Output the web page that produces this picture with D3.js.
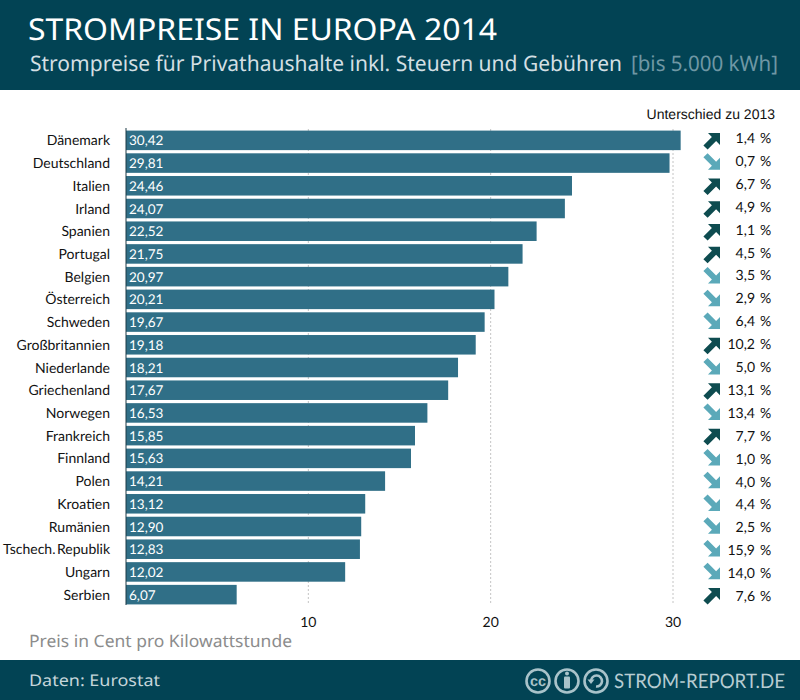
<!DOCTYPE html>
<html>
<head>
<meta charset="utf-8">
<script src="https://cdn.jsdelivr.net/npm/d3@7"></script>
<style>
  html, body { margin: 0; padding: 0; background: #fff; }
  text { text-rendering: geometricPrecision; }
</style>
</head>
<body>
<div id="chart"></div>
<script>
const countries = ["Dänemark", "Deutschland", "Italien", "Irland", "Spanien", "Portugal", "Belgien", "Österreich", "Schweden", "Großbritannien", "Niederlande", "Griechenland", "Norwegen", "Frankreich", "Finnland", "Polen", "Kroatien", "Rumänien", "Tschech. Republik", "Ungarn", "Serbien"];
const prices = [30.42, 29.81, 24.46, 24.07, 22.52, 21.75, 20.97, 20.21, 19.67, 19.18, 18.21, 17.67, 16.53, 15.85, 15.63, 14.21, 13.12, 12.90, 12.83, 12.02, 6.07];
// sign = direction of the arrow
const changes = [1.4, -0.7, 6.7, 4.9, 1.1, 4.5, -3.5, -2.9, -6.4, 10.2, -5.0, 13.1, -13.4, 7.7, -1.0, -4.0, -4.4, -2.5, -15.9, -14.0, 7.6];
const xTicks = [10, 20, 30];

const width = 800, height = 700;
const DARK = "#024354", BAR = "#306f87", UP = "#0e4c50", DOWN = "#5ba9b9";
const UI = "'Noto Sans', 'Open Sans', sans-serif";
const deNum = d3.format(".2f");
const comma = s => s.replace(".", ",");

const svg = d3.select("#chart").append("svg")
  .attr("width", width).attr("height", height)
  .style("display", "block");

// header + footer bands
svg.append("rect").attr("width", width).attr("height", 90).attr("fill", DARK);
svg.append("rect").attr("y", 660).attr("width", width).attr("height", 40).attr("fill", DARK);

svg.append("text").attr("x", 28).attr("y", 40)
  .attr("font-family", UI).attr("font-size", 30).attr("font-weight", 400)
  .attr("fill", "#fff").attr("textLength", 469).attr("lengthAdjust", "spacingAndGlyphs")
  .text("STROMPREISE IN EUROPA 2014");

// subtitle in two pieces, the bracket part is dimmer
svg.append("text").attr("x", 30).attr("y", 71)
  .attr("font-family", UI).attr("font-size", 21.5).attr("fill", "#d3dfe3")
  .attr("textLength", 592).attr("lengthAdjust", "spacingAndGlyphs")
  .text("Strompreise für Privathaushalte inkl. Steuern und Gebühren");
svg.append("text").attr("x", 631).attr("y", 71)
  .attr("font-family", UI).attr("font-size", 21.5).attr("fill", "#6f97a4")
  .attr("textLength", 147).attr("lengthAdjust", "spacingAndGlyphs")
  .text("[bis 5.000 kWh]");

// scales
const x = d3.scaleLinear().domain([0, 30]).range([126, 673]);
const y = d3.scaleBand().domain(countries).range([129, 606]).paddingInner(0.14).paddingOuter(0.07);
const rowY = d3.scalePoint().domain(countries).range([140, 595]);
const pctY = d3.scalePoint().domain(countries).range([138, 596]);

// dotted gridlines go behind the bars
svg.append("g").selectAll("line").data(xTicks).join("line")
  .attr("x1", d => x(d)).attr("x2", d => x(d))
  .attr("y1", 129).attr("y2", 605)
  .attr("stroke", "#c4c4c4").attr("stroke-width", 1).attr("stroke-dasharray", "2,2");

svg.append("g").selectAll("rect").data(countries).join("rect")
  .attr("x", x(0))
  .attr("y", d => y(d))
  .attr("width", (d, i) => x(prices[i]) - x(0))
  .attr("height", y.bandwidth())
  .attr("fill", BAR);

svg.append("line").attr("x1", x(0)).attr("x2", x(0)).attr("y1", 128).attr("y2", 605)
  .attr("stroke", "#1d3b47").attr("stroke-width", 1);

// value labels in the bars
svg.append("g").selectAll("text").data(countries).join("text")
  .attr("x", x(0) + 3)
  .attr("y", d => y(d) + y.bandwidth() / 2 + 5)
  .attr("font-family", "Lato, sans-serif").attr("font-size", 13.5)
  .attr("fill", "#fff")
  .text((d, i) => comma(deNum(prices[i])));

// country labels
svg.append("g").selectAll("text").data(countries).join("text")
  .attr("x", 110)
  .attr("y", d => y(d) + y.bandwidth() / 2 + 5)
  .attr("text-anchor", "end")
  .attr("font-family", "Lato, sans-serif").attr("font-size", 14).attr("word-spacing", -2)
  .attr("fill", "#111")
  .text(d => d);

// x tick labels
svg.append("g").selectAll("text").data(xTicks).join("text")
  .attr("x", d => x(d)).attr("y", 627)
  .attr("text-anchor", "middle")
  .attr("font-family", "Lato, sans-serif").attr("font-size", 14)
  .attr("fill", "#111")
  .text(d => d);

// right column
svg.append("text").attr("x", 775).attr("y", 119).attr("text-anchor", "end")
  .attr("font-family", "'Liberation Sans', sans-serif").attr("font-size", 14)
  .attr("fill", "#111").text("Unterschied zu 2013");

const arrow = "M-4,-7 L8,-7 L8,5 L4.1,1.1 L-4.4,9.6 L-8.6,5.4 L-0.1,-3.1 Z";
svg.append("g").selectAll("path").data(countries).join("path")
  .attr("d", arrow)
  .attr("transform", (d, i) => `translate(712,${rowY(d)}) scale(${changes[i] > 0 ? "1,1" : "1,-1"})`)
  .attr("fill", (d, i) => changes[i] > 0 ? UP : DOWN);

const pct = svg.append("g").selectAll("g").data(countries).join("g")
  .attr("transform", d => `translate(0,${pctY(d)})`)
  .attr("font-family", "Lato, sans-serif").attr("font-size", 14).attr("fill", "#111");
pct.append("text").attr("x", 755).attr("y", 5).attr("text-anchor", "end")
  .text((d, i) => comma(Math.abs(changes[i]).toFixed(1)));
pct.append("text").attr("x", 760).attr("y", 5).text("%");

// axis title and footer
svg.append("text").attr("x", 29).attr("y", 647)
  .attr("font-family", UI).attr("font-size", 17).attr("fill", "#8c8c8c")
  .attr("textLength", 263).attr("lengthAdjust", "spacingAndGlyphs")
  .text("Preis in Cent pro Kilowattstunde");
svg.append("text").attr("x", 29).attr("y", 686)
  .attr("font-family", UI).attr("font-size", 16).attr("fill", "#c5d5da")
  .attr("textLength", 131).attr("lengthAdjust", "spacingAndGlyphs")
  .text("Daten: Eurostat");

// cc badges
const ICON = "#a9c3ca";
const badges = svg.append("g").attr("fill", "none").attr("stroke", ICON).attr("stroke-width", 2.6);
[538, 567, 596].forEach(cx => badges.append("circle").attr("cx", cx).attr("cy", 681).attr("r", 11.5));
svg.append("text").attr("x", 538).attr("y", 686).attr("text-anchor", "middle")
  .attr("font-family", "'Liberation Sans', sans-serif").attr("font-weight", 700).attr("font-size", 14.5)
  .attr("fill", ICON).text("cc");
svg.append("circle").attr("cx", 567).attr("cy", 673.5).attr("r", 2).attr("fill", ICON);
svg.append("rect").attr("x", 564).attr("y", 676.5).attr("width", 6).attr("height", 12).attr("rx", 1).attr("fill", ICON);
svg.append("path").attr("d", "M591,681 A5.5,5.5 0 1 1 596,686.5").attr("fill", "none").attr("stroke", ICON).attr("stroke-width", 2.6);
svg.append("path").attr("d", "M587.5,679.5 L594.5,679.5 L591,684 Z").attr("fill", ICON);

svg.append("text").attr("x", 614).attr("y", 688)
  .attr("font-family", "Lato, sans-serif").attr("font-size", 20).attr("fill", "#b7ccd2")
  .attr("textLength", 171).attr("lengthAdjust", "spacingAndGlyphs")
  .text("STROM-REPORT.DE");
</script>
</body>
</html>
